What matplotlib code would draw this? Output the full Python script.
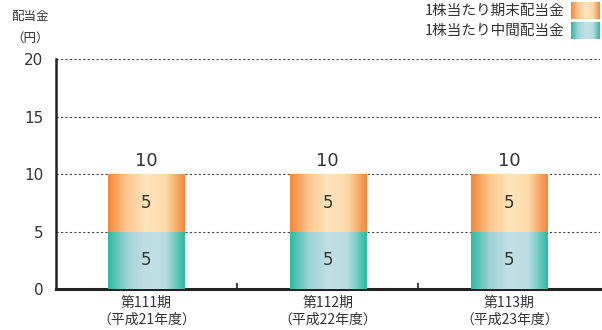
import numpy as np
import matplotlib
matplotlib.use('Agg')
import matplotlib.pyplot as plt
from matplotlib.colors import LinearSegmentedColormap

plt.rcParams['font.family'] = ['Noto Sans CJK JP', 'DejaVu Sans']

# Dane
kategorie = ['第111期\n（平成21年度）', '第112期\n（平成22年度）', '第113期\n（平成23年度）']
chukan = [5, 5, 5]     # 1株当たり中間配当金
kimatsu = [5, 5, 5]    # 1株当たり期末配当金
razem = [c + k for c, k in zip(chukan, kimatsu)]
y_ticks = [0, 5, 10, 15, 20]

kolor_tekstu = '#333333'
cmap_teal = LinearSegmentedColormap.from_list('teal', ['#2bb9a2', '#9fd3d6', '#c2dfe6', '#b9dde2', '#2bb9a2'])
cmap_orange = LinearSegmentedColormap.from_list('orange', ['#f3863a', '#fcc891', '#fde4bb', '#fcd9a8', '#f3863a'])

fig = plt.figure(figsize=(6.02, 3.3), dpi=100)
ax = fig.add_axes([0.0925, 0.124, 0.904, 0.697])

x = np.arange(len(kategorie))
szer = 0.42
grad = np.linspace(0, 1, 256).reshape(1, -1)


def slupek_gradient(xs, h, dol, cmap):
    bary = ax.bar(xs, h, szer, bottom=dol, color='none', linewidth=0, zorder=3)
    for b in bary:
        x0, y0 = b.get_x(), b.get_y()
        im = ax.imshow(grad, cmap=cmap, aspect='auto', zorder=3,
                       extent=(x0, x0 + b.get_width(), y0, y0 + b.get_height()))
        im.set_clip_path(b)
    return bary


slupek_gradient(x, chukan, 0, cmap_teal)
slupek_gradient(x, kimatsu, chukan, cmap_orange)

for i in range(len(x)):
    ax.text(x[i], chukan[i] / 2, str(chukan[i]), ha='center', va='center',
            fontsize=12, color=kolor_tekstu, zorder=4, family='DejaVu Sans')
    ax.text(x[i], chukan[i] + kimatsu[i] / 2, str(kimatsu[i]), ha='center', va='center',
            fontsize=12, color=kolor_tekstu, zorder=4, family='DejaVu Sans')
    ax.text(x[i], razem[i] + 0.35, str(razem[i]), ha='center', va='bottom',
            fontsize=13, color=kolor_tekstu, zorder=4, family='DejaVu Sans')

ax.set_xlim(-0.5, len(x) - 0.5)
ax.set_ylim(0, 20)
ax.set_yticks(y_ticks)
ax.set_yticklabels([str(v) for v in y_ticks], fontsize=11, color=kolor_tekstu, family='DejaVu Sans')
ax.tick_params(axis='y', length=0, pad=9)
ax.set_xticks(x)
ax.set_xticklabels(kategorie, fontsize=10, color=kolor_tekstu, linespacing=1.25)
ax.tick_params(axis='x', length=0, pad=5)
ax.set_xticks(x[:-1] + 0.5, minor=True)
ax.tick_params(axis='x', which='minor', direction='in', length=4, width=1.2, color='#222222')

for v in y_ticks[1:]:
    ax.axhline(v, color='#444444', linestyle=(0, (2, 2)), linewidth=0.8, zorder=1)

for s in ['top', 'right']:
    ax.spines[s].set_visible(False)
ax.spines['left'].set_linewidth(1.8)
ax.spines['bottom'].set_linewidth(2.2)
ax.spines['left'].set_color('#222222')
ax.spines['bottom'].set_color('#222222')

# Opis osi
fig.text(0.05, 0.93, '配当金', ha='center', va='bottom', fontsize=9, color=kolor_tekstu)
fig.text(0.05, 0.865, '（円）', ha='center', va='bottom', fontsize=9, color=kolor_tekstu)

# Legenda
fig.text(0.938, 0.967, '1株当たり期末配当金', ha='right', va='center', fontsize=10.5, color=kolor_tekstu)
fig.text(0.938, 0.906, '1株当たり中間配当金', ha='right', va='center', fontsize=10.5, color=kolor_tekstu)
for yy, cm in [(0.943, cmap_orange), (0.882, cmap_teal)]:
    lax = fig.add_axes([0.948, yy, 0.048, 0.05])
    lax.imshow(grad, cmap=cm, aspect='auto')
    lax.axis('off')

fig.savefig('out.png', dpi=100)
